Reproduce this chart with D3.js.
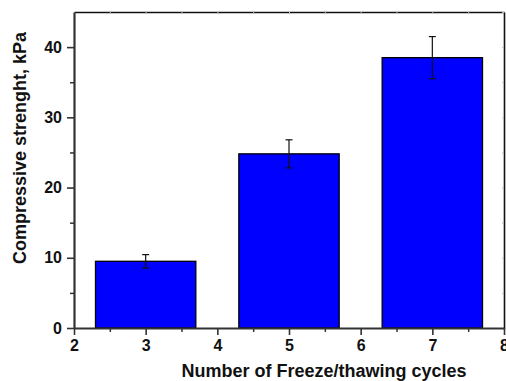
<!DOCTYPE html>
<html>
<head>
<script src="https://d3js.org/d3.v7.min.js"></script>
<style>
  body { margin: 0; background: #fff; }
  text { font-family: "Liberation Sans", Arial, sans-serif; font-weight: bold; fill: #111; }
</style>
</head>
<body>
<svg id="chart" width="506" height="381"></svg>
<script>
// data
var cycles = [3, 5, 7];
var strength = [9.5, 24.8, 38.5];
var errors = [0.95, 2.0, 3.0];
var xTicks = [2, 3, 4, 5, 6, 7, 8];
var yTicks = [0, 10, 20, 30, 40];

var svg = d3.select("#chart");
var mLeft = 74, mRight = 504, mTop = 12, mBottom = 328;

var x = d3.scaleLinear().domain([2, 8]).range([mLeft, mRight]);
var y = d3.scaleLinear().domain([0, 45]).range([mBottom, mTop]);
var barW = 1.4;

// bars
svg.selectAll("rect.bar")
    .data(cycles)
    .enter()
    .append("rect")
    .attr("class", "bar")
    .attr("x", function(d) { return x(d - barW / 2); })
    .attr("width", function(d) { return x(d + barW / 2) - x(d - barW / 2); })
    .attr("y", function(d, i) { return y(strength[i]); })
    .attr("height", function(d, i) { return y(0) - y(strength[i]); })
    .attr("fill", "#0000ff")
    .attr("stroke", "#000")
    .attr("stroke-width", 1.3);

// error bars
var eb = svg.selectAll("g.err")
    .data(cycles)
    .enter()
    .append("g")
    .attr("class", "err")
    .attr("stroke", "#111")
    .attr("stroke-width", 1.2);
eb.append("line")
    .attr("x1", function(d) { return x(d); })
    .attr("x2", function(d) { return x(d); })
    .attr("y1", function(d, i) { return y(strength[i] + errors[i]); })
    .attr("y2", function(d, i) { return y(strength[i] - errors[i]); });
eb.append("line")
    .attr("x1", function(d) { return x(d) - 3.5; })
    .attr("x2", function(d) { return x(d) + 3.5; })
    .attr("y1", function(d, i) { return y(strength[i] + errors[i]); })
    .attr("y2", function(d, i) { return y(strength[i] + errors[i]); });
eb.append("line")
    .attr("x1", function(d) { return x(d) - 3.5; })
    .attr("x2", function(d) { return x(d) + 3.5; })
    .attr("y1", function(d, i) { return y(strength[i] - errors[i]); })
    .attr("y2", function(d, i) { return y(strength[i] - errors[i]); });

// top and right frame with faint inner ticks
var topAxis = svg.append("g")
    .attr("transform", "translate(0," + mTop + ")")
    .call(d3.axisTop(x).tickValues(d3.range(2, 8.01, 0.5)).tickSize(-2).tickSizeOuter(0).tickFormat(""));
var rightAxis = svg.append("g")
    .attr("transform", "translate(" + mRight + ",0)")
    .call(d3.axisRight(y).tickValues(d3.range(0, 45.01, 5)).tickSize(-2).tickSizeOuter(0).tickFormat(""));
[topAxis, rightAxis].forEach(function(a) {
    a.select(".domain").attr("stroke", "#111").attr("stroke-width", 1.6);
    a.selectAll(".tick line").attr("stroke", "#bbb");
});

// minor ticks
svg.append("g")
    .attr("transform", "translate(0," + mBottom + ")")
    .call(d3.axisBottom(x).tickValues(d3.range(2.5, 8, 1)).tickSize(4).tickFormat(""))
    .call(function(g) { g.select(".domain").remove(); g.selectAll(".tick line").attr("stroke", "#333").attr("stroke-width", 1.5); });
svg.append("g")
    .attr("transform", "translate(" + mLeft + ",0)")
    .call(d3.axisLeft(y).tickValues(d3.range(5, 45, 10)).tickSize(4).tickFormat(""))
    .call(function(g) { g.select(".domain").remove(); g.selectAll(".tick line").attr("stroke", "#333").attr("stroke-width", 1.5); });

// main axes
var xAxis = svg.append("g")
    .attr("transform", "translate(0," + mBottom + ")")
    .call(d3.axisBottom(x).tickValues(xTicks).tickFormat(d3.format("d")).tickSize(7).tickPadding(5).tickSizeOuter(0));
var yAxis = svg.append("g")
    .attr("transform", "translate(" + mLeft + ",0)")
    .call(d3.axisLeft(y).tickValues(yTicks).tickFormat(d3.format("d")).tickSize(7).tickPadding(5).tickSizeOuter(0));
[xAxis, yAxis].forEach(function(a) {
    a.select(".domain").attr("stroke", "#333").attr("stroke-width", 2.2);
    a.selectAll(".tick line").attr("stroke", "#333").attr("stroke-width", 1.6);
    a.selectAll(".tick text").style("font-size", "16px").style("font-family", "Liberation Sans, Arial, sans-serif").style("font-weight", "bold").attr("fill", "#111");
});

// axis titles
svg.append("text")
    .attr("x", 324)
    .attr("y", 377)
    .attr("text-anchor", "middle")
    .style("font-size", "18px")
    .text("Number of Freeze/thawing cycles");
svg.append("text")
    .attr("transform", "translate(26,148) rotate(-90)")
    .attr("text-anchor", "middle")
    .style("font-size", "18px")
    .text("Compressive strenght, kPa");
</script>
</body>
</html>
